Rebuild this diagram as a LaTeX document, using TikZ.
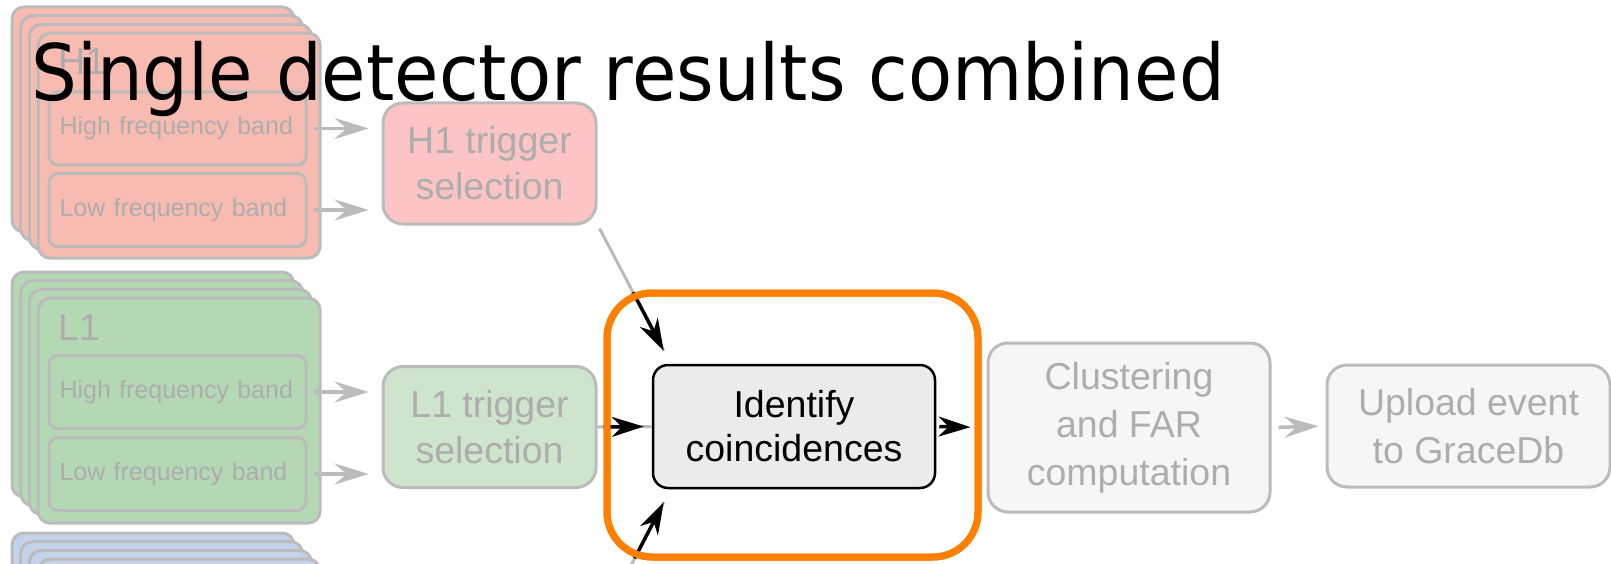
\documentclass[tikz,border=0pt]{standalone}
\usepackage{fontspec}
\setmainfont{Liberation Sans}
\newfontfamily\titlefont{DejaVu Sans}
\usetikzlibrary{arrows.meta}
\definecolor{pinkcard}{HTML}{F8BBB1}
\definecolor{pinktrig}{HTML}{FCC4C4}
\definecolor{greencard}{HTML}{B4D8B4}
\definecolor{greentrig}{HTML}{CFE4CC}
\definecolor{bluecard}{HTML}{C4D3EC}
\definecolor{fadeline}{HTML}{BBBBBB}
\definecolor{fadetext}{HTML}{ADADAD}
\definecolor{fadefill}{HTML}{F6F6F6}
\definecolor{identfill}{HTML}{EBEBEB}
\definecolor{hlorange}{HTML}{FF7F00}
\begin{document}
\begin{tikzpicture}[x=1pt,y=-1pt,
  card/.style={draw=fadeline, line width=3pt, rounded corners=12pt,
    minimum width=282pt, minimum height=225pt, inner sep=0pt},
  band/.style={draw=fadeline, line width=3pt, rounded corners=9pt,
    minimum width=257pt, minimum height=73pt, inner xsep=10.5pt, inner ysep=0pt,
    text width=236pt, align=left, text=fadetext,
    font=\fontsize{25}{30}\selectfont},
  detlabel/.style={anchor=base west, inner sep=0pt, text=fadetext,
    font=\fontsize{37.5}{40}\selectfont},
  trig/.style={draw=fadeline, line width=3pt, rounded corners=20pt,
    minimum width=213pt, minimum height=121pt, inner sep=0pt, align=center,
    text=fadetext, font=\fontsize{37.5}{46}\selectfont},
  fadebox/.style={draw=fadeline, line width=3pt, rounded corners=20pt,
    fill=fadefill, minimum width=282pt, inner sep=0pt, align=center,
    text=fadetext, font=\fontsize{37.5}{48}\selectfont},
  identbox/.style={draw=black, line width=2.5pt, rounded corners=15pt,
    fill=identfill, minimum width=282pt, minimum height=123pt, inner sep=0pt,
    align=center, font=\fontsize{37.5}{44}\selectfont},
  garrow/.style={draw=fadeline, line width=3.5pt,
    -{Stealth[length=34pt,width=21pt,inset=12pt]}},
  gline/.style={draw=fadeline, line width=3pt},
  barrow/.style={draw=black, line width=3.5pt,
    -{Stealth[length=32pt,width=20pt,inset=10pt]}}
]
\useasboundingbox (0,0) rectangle (1611,564);
\clip (0,0) rectangle (1611,564);

% ---- H1 stack
\foreach \i in {0,1,2,3}
  \node[card, fill=pinkcard] (h1card\i) at ({153+8.7*\i},{119.5+8.7*\i}) {};
\node[detlabel] (h1lab) at (58,75) {H1};
\node[band] (h1hi) at (177.5,128.5) {High frequency band};
\node[band] (h1lo) at (177.5,210) {Low frequency band};
\node[trig, fill=pinktrig] (h1trig) at (489.5,163.5) {H1 trigger\\selection};
\draw[garrow, shorten <=6pt, shorten >=13pt] (h1hi.east) -- (h1trig.west |- h1hi.east);
\draw[garrow, shorten <=6pt, shorten >=13pt] (h1lo.east) -- (h1trig.west |- h1lo.east);

% ---- L1 stack
\foreach \i in {0,1,2,3}
  \node[card, fill=greencard] (l1card\i) at ({153+8.7*\i},{384.5+8.7*\i}) {};
\node[detlabel] (l1lab) at (58,340) {L1};
\node[band] (l1hi) at (177.5,392) {High frequency band};
\node[band] (l1lo) at (177.5,474) {Low frequency band};
\node[trig, fill=greentrig] (l1trig) at (489.5,427) {L1 trigger\\selection};
\draw[garrow, shorten <=6pt, shorten >=13pt] (l1hi.east) -- (l1trig.west |- l1hi.east);
\draw[garrow, shorten <=6pt, shorten >=13pt] (l1lo.east) -- (l1trig.west |- l1lo.east);

% ---- V1 stack (cut off)
\foreach \i in {0,1,2,3}
  \node[card, fill=bluecard] (v1card\i) at ({153+8.7*\i},{645.5+8.7*\i}) {};
\coordinate (v1out) at (598,629);

% ---- right part
\node[identbox] (ident) at (794,426.5) {Identify\\coincidences};
\node[fadebox, minimum height=169pt] (clust) at (1129,427.5) {Clustering\\and FAR\\computation};
\node[fadebox, minimum height=122pt, minimum width=283pt] (upload) at (1468.5,426) {Upload event\\to GraceDb};
\draw[garrow, shorten <=7pt, shorten >=7pt] (clust.east) -- (upload.west);

% ---- faded connector lines
\draw[gline] ([shift={(2,3)}]h1trig.south east) -- ([shift={(12,-13)}]ident.north west);
\draw[gline] (v1out) -- ([shift={(12,13)}]ident.south west);
\draw[gline] (l1trig.east) -- (ident.west);

% ---- highlight
\node[draw=hlorange, line width=7pt, rounded corners=45pt,
  minimum width=371pt, minimum height=264pt, inner sep=0pt] (hl) at (792.5,425) {};
\begin{scope}
  \clip[rounded corners=45pt] (hl.north west) rectangle (hl.south east);
  \draw[barrow] ([shift={(2,3)}]h1trig.south east) -- ([shift={(12,-13)}]ident.north west);
  \draw[barrow] (v1out) -- ([shift={(12,13)}]ident.south west);
  \draw[barrow, shorten >=8pt] (l1trig.east) -- (ident.west);
  \draw[barrow, shorten <=3pt, shorten >=16pt] (ident.east) -- (clust.west);
\end{scope}
\node[draw=hlorange, line width=7pt, rounded corners=45pt,
  minimum width=371pt, minimum height=264pt, inner sep=0pt] (hlframe) at (hl) {};

% ---- title
\node[anchor=base west, inner sep=0pt] (title) at (31,101)
  {\titlefont\fontsize{72.2}{80}\selectfont\scalebox{1}[1.08]{Single detector results combined}};
\end{tikzpicture}
\end{document}
